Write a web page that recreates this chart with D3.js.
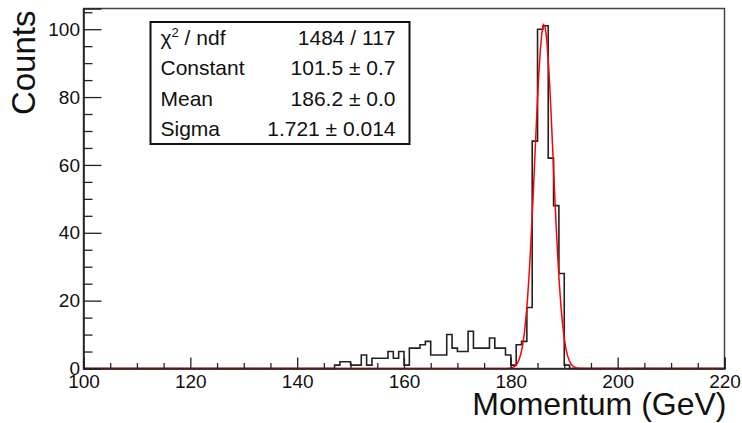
<!DOCTYPE html>
<html>
<head>
<meta charset="utf-8">
<script src="https://cdn.jsdelivr.net/npm/d3@7"></script>
<style>
	body{margin:0;background:#fff;}
	svg{display:block;font-family:"Liberation Sans",Arial,Helvetica,sans-serif;}
</style>
</head>
<body>
<svg id="chart" width="742" height="423"></svg>
<script>
//histogram: 1 GeV bins from 100 to 220, counts
const binEdges = [100,220];
const binWidth = 1;
const counts = [
	0,0,0,0,0,0,0,0,0,0,     //100-109
	0,0,0,0,0,0,0,0,0,0,     //110-119
	0,0,0,0,0,0,0,0,0,0,     //120-129
	0,0,0,0,0,0,0,0,0,0,     //130-139
	0,0,0,0,0,0,0,1,2,2,     //140-149
	1,1,4,1,3,3,3,5,3,5,     //150-159
	1,6,6,7,8,4,4,4,10,6,    //160-169
	5,5,11,6,6,6,9,6,6,4,    //170-179
	1,7,8,18,67,100,101,62,48,28, //180-189
	1,0,0,0,0,0,0,0,0,0,     //190-199
	0,0,0,0,0,0,0,0,0,0,     //200-209
	0,0,0,0,0,0,0,0,0,0      //210-219
];

//gaussian fit
const fitConstant = 101.5;
const fitMean = 186.2;
const fitSigma = 1.721;

//stats box
const statLabels = ['ndf','Constant','Mean','Sigma'];
const statValues = ['1484 / 117','101.5 \u00b1 0.7','186.2 \u00b1 0.0','1.721 \u00b1 0.014'];

const xMajor = [100,120,140,160,180,200,220];
const yMajor = [0,20,40,60,80,100];
const yMax = 106.1;

const _m = {t:8.5,r:17.5,b:54.5,l:83.5};
const W = 742, H = 423;
const _w = W - _m.l - _m.r;
const _h = H - _m.t - _m.b;

const svg = d3.select('#chart');
const scaleX = d3.scaleLinear().domain(binEdges).range([0,_w]);
const scaleY = d3.scaleLinear().domain([0,yMax]).range([_h,0]);

const plot = svg.append('g')
	.attr('transform',`translate(${_m.l},${_m.t})`);

//frame
plot.append('rect')
	.attr('width',_w)
	.attr('height',_h)
	.style('fill','none')
	.style('stroke','#444')
	.style('stroke-width',1.5);

//histogram outline
const steps = [[binEdges[0],0]];
counts.forEach((c,i)=>{
	const lo = binEdges[0] + i*binWidth;
	steps.push([lo,c],[lo+binWidth,c]);
});
steps.push([binEdges[1],0]);
plot.append('path')
	.datum(steps)
	.attr('d',d3.line().x(d=>scaleX(d[0])).y(d=>scaleY(d[1])))
	.style('fill','none')
	.style('stroke','#222')
	.style('stroke-width',1.6);

//fit function, evaluated like a TF1 on the axis range
const gaus = x => fitConstant*Math.exp(-0.5*Math.pow((x-fitMean)/fitSigma,2));
const fitPts = d3.range(0,401).map(i=>{
	const x = binEdges[0] + i*(binEdges[1]-binEdges[0])/400;
	return [x,gaus(x)];
});
plot.append('path')
	.datum(fitPts)
	.attr('d',d3.line().x(d=>scaleX(d[0])).y(d=>scaleY(d[1])))
	.style('fill','none')
	.style('stroke','#ff0000')
	.style('stroke-width',1.5);

//axes
const xMinor = d3.range(binEdges[0],binEdges[1]+1,5).filter(v=>xMajor.indexOf(v)<0);
const yMinor = d3.range(0,yMax,5).filter(v=>yMajor.indexOf(v)<0);

const xAxis = plot.append('g')
	.attr('transform',`translate(0,${_h})`)
	.call(d3.axisBottom(scaleX).tickValues(xMajor).tickSize(-11).tickPadding(6).tickFormat(d3.format('d')));
plot.append('g')
	.attr('transform',`translate(0,${_h})`)
	.call(d3.axisBottom(scaleX).tickValues(xMinor).tickSize(-5.5).tickFormat(''))
	.select('.domain').remove();

const yAxis = plot.append('g')
	.call(d3.axisLeft(scaleY).tickValues(yMajor).tickSize(-18).tickPadding(3.5).tickFormat(d3.format('d')));
plot.append('g')
	.call(d3.axisLeft(scaleY).tickValues(yMinor).tickSize(-9).tickFormat(''))
	.select('.domain').remove();

plot.selectAll('.domain').style('stroke','#222').style('stroke-width',1.6);
plot.selectAll('.tick line').style('stroke','#222').style('stroke-width',1.3);
plot.selectAll('.tick text')
	.style('font-family','"Liberation Sans",Arial,sans-serif')
	.style('font-size','19px')
	.style('fill','#111');

//titles
svg.append('text')
	.attr('x',_m.l+_w+2)
	.attr('y',415)
	.attr('text-anchor','end')
	.style('font-size','32px')
	.style('fill','#111')
	.text('Momentum (GeV)');
svg.append('text')
	.attr('transform',`translate(35,${_m.t+2}) rotate(-90)`)
	.attr('text-anchor','end')
	.style('font-size','33px')
	.style('fill','#111')
	.text('Counts');

//stats box
const box = svg.append('g')
	.attr('transform','translate(150.5,22)');
box.append('rect')
	.attr('width',259)
	.attr('height',122)
	.style('fill','#fff')
	.style('stroke','#111')
	.style('stroke-width',2);

const rowY = d3.scaleBand().domain(d3.range(statLabels.length)).range([0,122]);
const rows = box.selectAll('.row')
	.data(statLabels)
	.enter()
	.append('g').attr('class','row')
	.attr('transform',(d,i)=>`translate(0,${rowY(i)+rowY.bandwidth()/2+7.5})`);

rows.append('text')
	.attr('x',10)
	.style('font-size','21px')
	.style('fill','#111')
	.each(function(d,i){
		const t = d3.select(this);
		if(i===0){
			t.append('tspan').text('\u03c7');
			t.append('tspan').attr('dy',-8).style('font-size','13px').text('2');
			t.append('tspan').attr('dy',8).text(' / ' + d);
		}else{
			t.text(d);
		}
	});
rows.append('text')
	.attr('x',245)
	.attr('text-anchor','end')
	.style('font-size','21px')
	.style('fill','#111')
	.text((d,i)=>statValues[i]);
</script>
</body>
</html>
